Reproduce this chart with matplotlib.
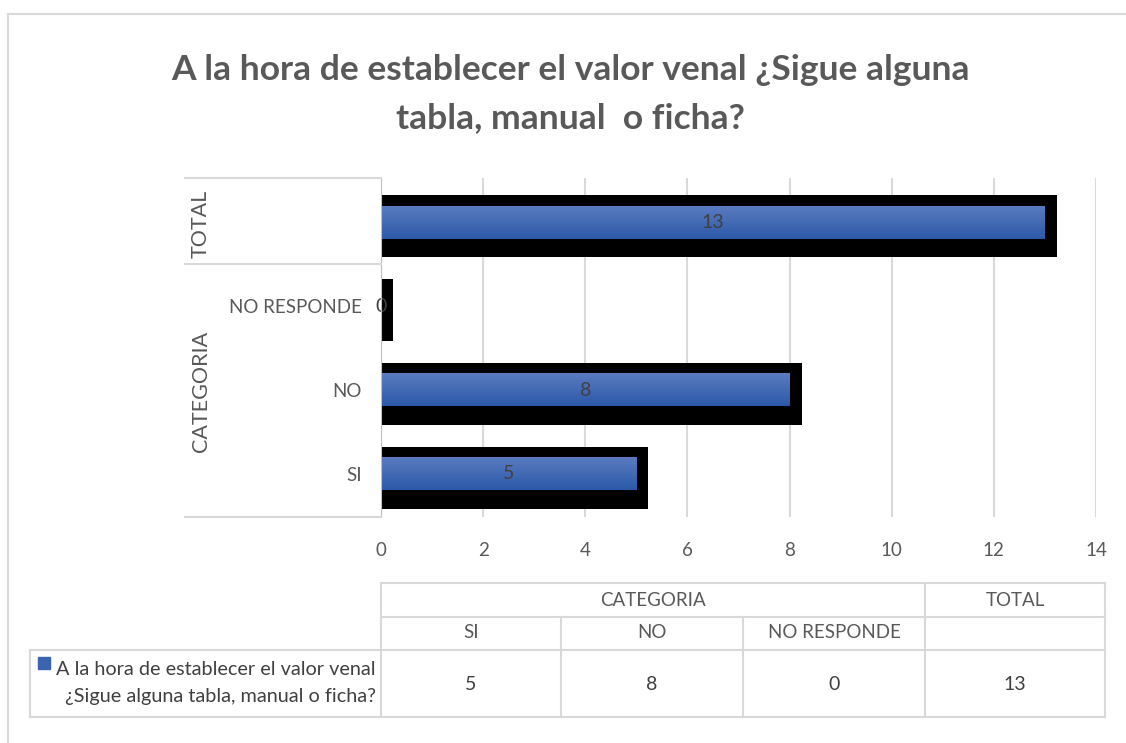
import numpy as np
import matplotlib
matplotlib.use('Agg')
import matplotlib.pyplot as plt
from matplotlib.colors import LinearSegmentedColormap
from matplotlib.lines import Line2D

plt.rcParams['font.family'] = ['Lato', 'DejaVu Sans']

# data
categories = ['SI', 'NO', 'NO RESPONDE', 'TOTAL']
values = [5, 8, 0, 13]
table_cats = ['SI', 'NO', 'NO RESPONDE', '']
series_name = 'A la hora de establecer el valor venal\n¿Sigue alguna tabla, manual o ficha?'
title = 'A la hora de establecer el valor venal ¿Sigue alguna\ntabla, manual  o ficha?'
xticks = [0, 2, 4, 6, 8, 10, 12, 14]

W, H = 1126, 743
fig = plt.figure(figsize=(W / 100, H / 100), dpi=100)

def fx(px):
    return px / W

def fy(py):
    return 1 - py / H

grey_txt = '#595959'
dark_txt = '#404040'
line_c = '#D9D9D9'

# outer chart border (top & left visible)
fig.add_artist(Line2D([fx(8), 1], [fy(14), fy(14)], color=line_c, lw=1.5))
fig.add_artist(Line2D([fx(8), fx(8)], [fy(14), 0], color=line_c, lw=1.5))

fig.text(fx(570), fy(94), title, ha='center', va='center', fontsize=25.5,
         fontweight='bold', color=grey_txt, linespacing=1.65)

# main bar axes
ax = fig.add_axes([fx(381), fy(517), fx(1096) - fx(381), fy(178) - fy(517)])
ypos = np.arange(len(categories))
px_x = 715 / 14.0
px_y = 84.0

# shadow bars
ax.barh(ypos - 4 / px_y, [v + 12 / px_x for v in values], height=62 / px_y,
        color='black', zorder=2)
bars = ax.barh(ypos, values, height=33 / px_y, color='#3A64B0', zorder=3)

cmap = LinearSegmentedColormap.from_list('g', ['#5A7BC0', '#2C59A8'])
grad = np.linspace(0, 1, 64)[:, None]
for b in bars:
    if b.get_width() <= 0:
        continue
    ax.imshow(grad, extent=[b.get_x(), b.get_x() + b.get_width(),
                            b.get_y(), b.get_y() + b.get_height()],
              aspect='auto', cmap=cmap, zorder=4)

for y, v in zip(ypos, values):
    ax.text(v / 2, y, str(v), ha='center', va='center', fontsize=14,
            color=dark_txt, zorder=5)

ax.set_xlim(0, 14)
ax.set_ylim(-0.512, 3.524)
ax.set_xticks(xticks)
ax.set_xticklabels([str(t) for t in xticks])
ax.set_yticks(ypos[:3])
ax.set_yticklabels(categories[:3])
ax.tick_params(axis='both', length=0, labelsize=13.5, colors=grey_txt)
ax.tick_params(axis='x', pad=18)
ax.tick_params(axis='y', pad=14)
ax.grid(axis='x', color=line_c, lw=1.5, zorder=0)
for s in ['top', 'right', 'bottom']:
    ax.spines[s].set_visible(False)
ax.spines['left'].set_color('#BFBFBF')
ax.spines['left'].set_zorder(6)

# category group lines and labels
for py in [178, 264, 517]:
    fig.add_artist(Line2D([fx(185), fx(381)], [fy(py), fy(py)], color=line_c, lw=1.5))
fig.text(fx(201), fy(224), 'TOTAL', rotation=90, ha='center', va='center',
         fontsize=15.5, color=grey_txt)
fig.text(fx(201), fy(391), 'CATEGORIA', rotation=90, ha='center', va='center',
         fontsize=15.5, color=grey_txt)

# data table
tax = fig.add_axes([0, 0, 1, 1], zorder=-1)
tax.set_xlim(0, W)
tax.set_ylim(H, 0)
tax.axis('off')
cols = [381, 561, 743, 925, 1105]
lk = dict(color=line_c, lw=1.5)
tax.plot([381, 1105], [583, 583], **lk)
tax.plot([381, 1105], [617, 617], **lk)
tax.plot([30, 1105], [650, 650], **lk)
tax.plot([30, 1105], [717, 717], **lk)
tax.plot([30, 30], [650, 717], **lk)
for c in [381, 925, 1105]:
    tax.plot([c, c], [583, 717], **lk)
for c in [561, 743]:
    tax.plot([c, c], [617, 717], **lk)

tax.text((381 + 925) / 2, 601, 'CATEGORIA', ha='center', va='center',
         fontsize=13.5, color=grey_txt)
tax.text((925 + 1105) / 2, 601, 'TOTAL', ha='center', va='center',
         fontsize=13.5, color=grey_txt)
for i, lab in enumerate(table_cats):
    tax.text((cols[i] + cols[i + 1]) / 2, 633, lab, ha='center', va='center',
             fontsize=13.5, color=grey_txt)
    tax.text((cols[i] + cols[i + 1]) / 2, 684, str(values[i]), ha='center',
             va='center', fontsize=14, color=dark_txt)
tax.add_patch(plt.Rectangle((38, 657), 12, 12, color='#3A64B0'))
tax.text(376, 683, series_name, ha='right', va='center', fontsize=14.3,
         color=dark_txt, linespacing=1.7)

fig.savefig('out.png', dpi=100, facecolor='white')
